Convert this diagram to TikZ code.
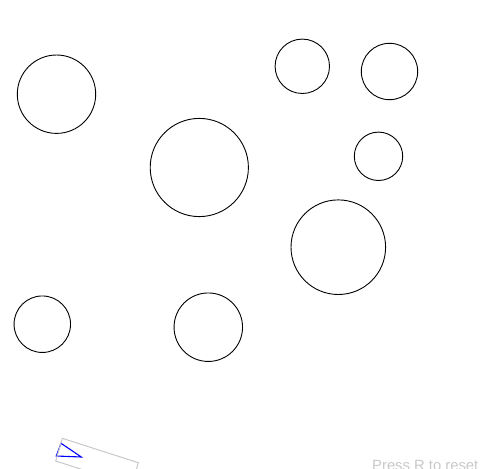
\documentclass[tikz,border=0pt]{standalone}
\usepackage{fontspec}
\setmainfont{Liberation Sans}
\definecolor{lightgrey}{RGB}{200,200,200}
\begin{document}
\begin{tikzpicture}[x=1pt,y=-1pt,
  ball/.style={draw=black,line width=0.9pt,circle,inner sep=0pt},
  frame/.style={draw=lightgrey,line width=1pt},
  ship/.style={draw=blue,line width=1.1pt},
  hint/.style={text=lightgrey,font=\fontsize{14.8}{16}\selectfont,inner sep=0pt,anchor=base west}]
\useasboundingbox (0,0) rectangle (492,468);
\clip (0,0) rectangle (492,468);
\node[ball,minimum size=78.4pt] (c1) at (56.5,94.2) {};
\node[ball,minimum size=98.2pt] (c2) at (199.3,167.5) {};
\node[ball,minimum size=54.4pt] (c3) at (302.3,66.3) {};
\node[ball,minimum size=56.4pt] (c4) at (389.5,71.5) {};
\node[ball,minimum size=48.4pt] (c5) at (378.5,156.3) {};
\node[ball,minimum size=94.6pt] (c6) at (338.3,247.2) {};
\node[ball,minimum size=56.5pt] (c7) at (42.3,324.2) {};
\node[ball,minimum size=68.5pt] (c8) at (208.3,327.2) {};
% ship
\coordinate (t1) at (61,443.3);
\coordinate (t2) at (56.3,456);
\coordinate (t3) at (81.3,457);
\draw[ship] (t1) -- (t3) -- (t2) -- cycle;
% frame
\coordinate (f1) at (62.3,438.3);
\coordinate (f2) at (138.3,462.7);
\coordinate (f3) at (131.7,485.4);
\coordinate (f4) at (55.7,461);
\draw[frame] (f1) -- (f2) -- (f3) -- (f4) -- cycle;
\node[hint] (reset) at (372,470) {Press R to reset};
\end{tikzpicture}
\end{document}
